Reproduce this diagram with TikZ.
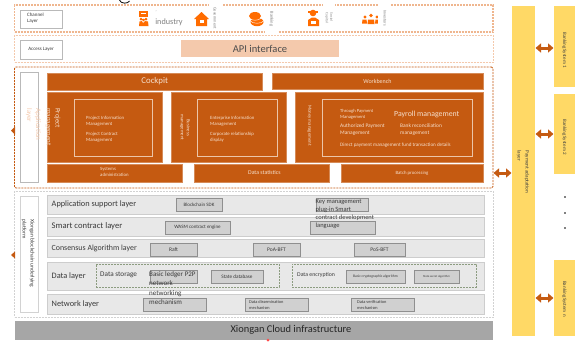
\documentclass[tikz,border=0pt]{standalone}
\usepackage{fontspec}
\setmainfont{Carlito}
\usetikzlibrary{arrows.meta}
\definecolor{rust}{HTML}{C55A11}
\definecolor{peachd}{HTML}{EFB68F}
\definecolor{peachf}{HTML}{F4C9AC}
\definecolor{yel}{HTML}{FFD966}
\definecolor{row}{HTML}{E8E8E8}
\definecolor{rowb}{HTML}{CDCDCD}
\definecolor{inb}{HTML}{D0D0D0}
\definecolor{inbd}{HTML}{8F8F8F}
\definecolor{grn}{HTML}{8C9C80}
\definecolor{txt}{HTML}{3A3A3A}
\definecolor{cloud}{HTML}{A6A6A6}
\definecolor{ltext}{HTML}{F6E0CE}
\newcommand{\B}[7]{\node[#1,minimum width={(#5)-(#3)},minimum height={(#6)-(#4)}] (#2) at ({((#3)+(#5))/2},{((#4)+(#6))/2}) {#7};}
\tikzset{
 x=1pt,y=-1pt,
 fn/.style 2 args={font=\fontsize{#1}{#2}\selectfont},
 base/.style={inner sep=0pt,outer sep=0pt,align=center,rectangle},
 dashbox/.style={base,draw,dash pattern=on 2pt off 1pt},
 laybox/.style={base,draw=gray!55,line width=0.9pt,fill=white,text=txt},
 rustbox/.style={base,fill=rust,text=ltext,draw=rust!70!white,line width=0.3pt},
 innerbox/.style={base,draw=ltext!80!rust,line width=0.7pt,text=ltext},
 rowbox/.style={base,fill=row,draw=rowb,line width=0.8pt},
 chip/.style={base,fill=inb,draw=inbd,line width=0.7pt,text=txt},
 yelbox/.style={base,fill=yel,text=black!75},
 dblarrow/.style={rust,line width=3pt,shorten <=0.5pt,shorten >=0.5pt,{Triangle[length=5.5pt,width=9pt]}-{Triangle[length=5.5pt,width=9pt]}},
 vlabel/.style={inner sep=0.5pt,rotate=-90,text=gray,align=left},
 lt/.style={inner sep=0pt,align=left,anchor=west},
 lab/.style={lt,text=ltext},
 rot/.style={inner sep=0pt,rotate=-90,align=left},
 rowtext/.style={inner sep=0pt,anchor=west,text=txt},
 dotmark/.style={circle,fill=black,inner sep=0pt,minimum size=1.8pt},
 ico/.style={fill=orange!85!red,draw=none},
}
\begin{document}
\begin{tikzpicture}
\useasboundingbox (0,0) rectangle (576,341);
\fill[white] (0,0) rectangle (576,341);
\draw[black,line width=0.8pt] (119.5,0) .. controls (120.5,4) and (128,4) .. (129.5,1);
% channel
\B{dashbox,draw=peachd,line width=1.1pt}{chan}{14.5}{5}{493}{32}{}
\B{laybox}{chl}{20}{10.5}{62}{28}{}
\node[lt,fn={5}{6},text=txt] (chlt) at (27,18) {Channel\\Layer};
% access
\B{dashbox,draw=peachf,line width=0.9pt}{acc}{14.5}{35}{493}{62}{}
\B{laybox,fn={5}{6}}{acl}{20}{40.5}{62}{59}{Access Layer}
\B{base,fill=peachf,text=black!70,fn={10.5}{12}}{api}{181}{40}{339}{57}{API interface}
% icons
\fill[ico] (139,11) rectangle (148,16.5);
\fill[white] (141,13) rectangle (146,14.2);
\fill[ico] (141,19) circle (1.5) (146,19) circle (1.5) (143.5,20) circle (1.3);
\fill[ico] (139,26) -- (139.5,21.5) -- (142,21) -- (143,23) -- (145,21) -- (148,21.5) -- (148.5,26) -- cycle;
\node[inner sep=0pt,text=gray,fn={8.2}{9}] (ind) at (169,22.5) {industry};
\node[inner sep=0pt,text=gray,fn={4}{4}] (dot1) at (156,12) {'};
\fill[ico] (194,19) -- (201.5,12) -- (209,19) -- (207,19) -- (207,26) -- (196,26) -- (196,19) -- cycle;
\fill[white] (199.5,20) rectangle (203.5,23);
\fill[white] (209,3) rectangle (222,30);
\node[vlabel,fn={4.2}{5}] (gov) at (215,18) {Government};
\fill[ico] (255,16) ellipse (6 and 4);
\fill[ico] (257,22) ellipse (6.5 and 4.2);
\draw[white,line width=0.4pt] (249,18) .. controls (251,21) and (259,21) .. (261,18);
\draw[white,line width=0.4pt] (250.5,21) .. controls (252,24) and (262,24) .. (263.5,21);
\fill[white] (265,8) rectangle (278,34);
\node[vlabel,fn={4.5}{5}] (bkg) at (271.5,19) {Banking};
\fill[ico] (313,13) circle (3.3);
\fill[ico] (308,12.5) rectangle (318,11);
\fill[ico] (308,26) -- (308,20) -- (312,17.5) -- (315,17.5) -- (319,20) -- (319,26) -- cycle;
\fill[white] (311,21) rectangle (316,24);
\fill[white] (323,3) rectangle (335,29);
\node[vlabel,fn={3.6}{4.5}] (soc) at (329,18) {Social\\Capital};
\fill[ico] (371,15.5) circle (1.8) (365,17) circle (1.6) (377,17) circle (1.6);
\fill[ico] (367.5,24) -- (368,19.5) -- (374,19.5) -- (374.5,24) -- cycle;
\fill[ico] (362,23.5) -- (362.5,19.5) -- (366.5,19.5) -- (367,23.5) -- cycle;
\fill[ico] (375,23.5) -- (375.5,19.5) -- (379.5,19.5) -- (380,23.5) -- cycle;
\fill[white] (378,3) rectangle (391,30);
\node[vlabel,fn={4.2}{5}] (inv) at (385,18) {Investors};
% app layer
\B{dashbox,draw=rust,line width=0.9pt,rounded corners=1.5pt}{app}{14.5}{67}{493}{188}{}
\B{laybox}{appl}{20}{72.5}{38}{182}{}
\node[rot,text=peachf,fn={7}{9}] (applt) at (33.5,124.5) {Application\\layer};
\B{rustbox,fn={8.8}{10}}{cock}{47.5}{73}{262}{90}{Cockpit}
\B{rustbox,fn={6}{7}}{work}{272}{73}{483}{89}{Workbench}
\B{rustbox}{proj}{47.5}{92.5}{162}{162}{}
\B{innerbox}{proji}{74}{99.5}{152}{156}{}
\node[rot,text=ltext,fn={7}{9}] (projt) at (53,127) {Project\\management};
\node[lab,fn={4.8}{6.2}] (pt1) at (86,121) {Project Information\\Management};
\node[lab,fn={4.8}{6.2}] (pt2) at (86,137) {Project Contract\\Management};
\B{rustbox}{bus}{171}{92.5}{286}{162}{}
\B{innerbox}{busi}{197}{99.5}{277}{156}{}
\node[rot,text=ltext,align=center,fn={4.8}{6}] (bust) at (185,127.5) {Business\\management};
\node[lab,fn={4.8}{6.2}] (bt1) at (210,121) {Enterprise Information\\Management};
\node[lab,fn={4.8}{6.2}] (bt2) at (210,137) {Corporate relationship\\display};
\B{rustbox}{mon}{295}{92.5}{483}{162}{}
\B{innerbox}{moni}{322}{99.5}{472}{156}{}
\node[rot,text=ltext,fn={4.8}{6}] (mont) at (309.5,125.5) {Money management};
\node[lab,fn={4.6}{6}] (mt1) at (340,114) {Through Payment\\Management};
\node[lab,fn={7.8}{9}] (mt2) at (394,114) {Payroll management};
\node[lab,fn={5.4}{7}] (mt3) at (340,129.5) {Authorized Payment\\Management};
\node[lab,fn={5.4}{7}] (mt4) at (400,129.5) {Bank reconciliation\\management};
\node[lab,fn={5.1}{6}] (mt5) at (340,145) {Direct payment management fund transaction details};
\B{rustbox}{sys}{47.5}{164}{182}{182}{}
\node[lab,fn={4.8}{6.2}] (syst) at (100,172) {Systems\\administration};
\B{rustbox}{stat}{194}{164}{329}{182}{}
\node[lab,fn={5.8}{7}] (statt) at (248,172.5) {Data statistics};
\B{rustbox,fn={4.8}{6}}{batch}{341}{164}{483}{182}{Batch processing}
% blockchain layer
\B{dashbox,draw=gray!35,line width=0.7pt}{chain}{14.5}{191}{493}{317}{}
\B{laybox,draw=gray!35}{chl2}{20}{196}{38}{312}{}
\node[rot,text=txt,fn={5.5}{8}] (chlt2) at (28,253.5) {Xiongan blockchain underlying\\platform};
\B{rowbox}{r1}{47.5}{195}{484}{214}{}
\B{rowbox}{r2}{47.5}{217}{484}{236}{}
\B{rowbox}{r3}{47.5}{239.5}{484}{257.5}{}
\B{rowbox}{r4}{47.5}{262}{484}{290}{}
\B{rowbox}{r5}{47.5}{294.5}{484}{314}{}
\node[rowtext,fn={8.3}{9}] (t1) at (51.5,204) {Application support layer};
\node[rowtext,fn={8.6}{9}] (t2) at (51.5,226) {Smart contract layer};
\node[rowtext,fn={7.9}{9}] (t3) at (51.5,248) {Consensus Algorithm layer};
\node[rowtext,fn={8.3}{9}] (t4) at (51.5,276) {Data layer};
\node[rowtext,fn={8.3}{9}] (t5) at (51.5,304) {Network layer};
\B{chip,fn={5}{6}}{c1}{176}{198}{222}{211}{Blockchain SDK}
\B{chip}{c2}{316}{198}{368}{211}{}
\B{chip,fn={5}{6}}{c3}{165}{221}{230}{234}{WASM contract engine}
\B{chip}{c4}{310}{221}{375}{234}{}
\node[text=txt,align=left,inner sep=0pt,anchor=north west,fn={6.5}{8}] (kt) at (315.5,199) {Key management\\plug-in Smart\\contract development\\language};
\B{chip,fn={5.5}{6}}{c5}{150}{243}{197}{256}{Raft}
\B{chip,fn={5.5}{6}}{c6}{253}{243}{300}{256}{PoA-BFT}
\B{chip,fn={5.5}{6}}{c7}{354}{243}{405}{256}{PoS-BFT}
\B{dashbox,draw=grn,line width=0.8pt}{ds}{96}{264}{279}{287}{}
\node[rowtext,fn={7.2}{8}] (dst) at (100,275) {Data storage};
\B{chip}{c8}{150}{270}{197}{283}{}
\B{chip,fn={5.2}{6}}{c9}{211}{270}{263}{283}{State database}
\B{dashbox,draw=grn,line width=0.8pt}{de}{292}{264}{476}{287}{}
\node[rowtext,fn={5.8}{7}] (det) at (297,275) {Data encryption};
\B{chip,fn={3.7}{5}}{c10}{346}{270}{405}{283}{Basic cryptographic algorithm}
\B{chip,fn={3}{4}}{c11}{414}{270}{459}{283}{State secret algorithm}
\B{chip}{c12}{143}{298}{206}{311}{}
\node[text=txt,align=left,inner sep=0pt,anchor=north west,fn={7}{9.6}] (ltx) at (149,271) {Basic ledger P2P\\network\\networking\\mechanism};
\B{chip}{c13}{245}{298}{308}{311}{}
\node[lt,text=txt,fn={4.4}{6}] (c13t) at (249,304.5) {Data dissemination\\mechanism};
\B{chip}{c14}{351}{298}{414}{311}{}
\node[lt,text=txt,fn={4.4}{6}] (c14t) at (357,304.5) {Data verification\\mechanism};
\B{base,fill=cloud}{clou}{14.5}{321}{493}{339.5}{}
\node[inner sep=0pt,text=black!85,fn={10.4}{12}] (clout) at (291,329.5) {Xiongan Cloud infrastructure};
\fill[red!70!white] (268,340) circle (1.5);
% right side
\B{yelbox}{pay}{512}{6}{535}{336}{}
\node[rot,text=black!75,fn={5.2}{8}] (payt) at (523,172) {Payment adaptation\\layer};
\B{yelbox}{b1}{554}{6}{575}{87}{}
\B{yelbox}{b2}{554}{94}{575}{174}{}
\B{yelbox}{bn}{554}{260}{575}{336}{}
\node[rot,text=black!75,fn={5}{6}] (b1t) at (564.5,50) {Banking System 1};
\node[rot,text=black!75,fn={5}{6}] (b2t) at (564.5,137) {Banking System 2};
\node[rot,text=black!75,fn={5}{6}] (bnt) at (564.5,299) {Banking System n};
% arrows
\fill[rust] (15,126.5) -- (11,130.5) -- (15,134.5) -- cycle;
\fill[rust] (15,251.5) -- (11,255) -- (15,258.5) -- cycle;
\draw[dblarrow] (app.east |- batch.east) -- (pay.west |- batch.east);
\draw[dblarrow] ([yshift=-1.5pt]pay.east |- b1.west) -- ([yshift=-1.5pt]b1.west);
\draw[dblarrow] (pay.east |- b2.west) -- (b2.west);
\draw[dblarrow] (pay.east |- bn.west) -- (bn.west);
\node[dotmark] (d1) at (565,197) {};
\node[dotmark] (d2) at (565,213) {};
\node[dotmark] (d3) at (565,228) {};
\end{tikzpicture}
\end{document}
